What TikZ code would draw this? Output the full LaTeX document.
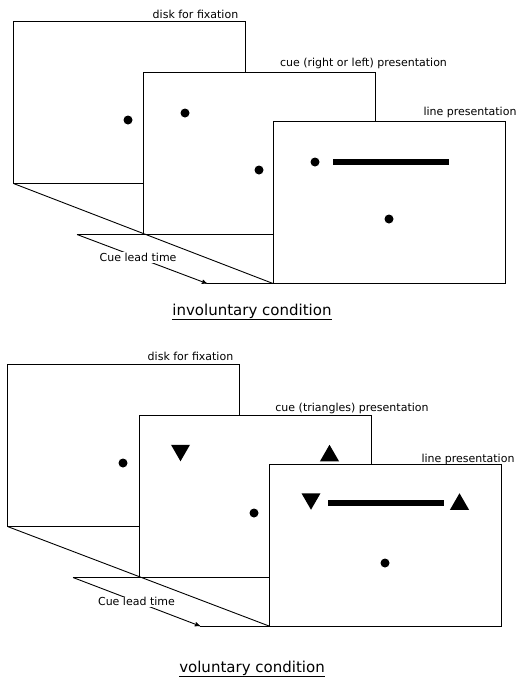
\documentclass[tikz,border=0pt]{standalone}
\usepackage{fontspec}
\setmainfont{DejaVu Sans}
\usetikzlibrary{arrows}
\usetikzlibrary{shapes.geometric}

\begin{document}
\begin{tikzpicture}[x=1pt,y=-1pt,>=stealth',line width=0.9pt]
					\tikzstyle{panel}=[draw,fill=white,inner sep=0pt,outer sep=0pt,
						minimum width=232pt,minimum height=162pt]
					\tikzstyle{dot}=[circle,fill,inner sep=0pt,minimum size=9pt]
					\tikzstyle{bar}=[rectangle,fill,inner sep=0pt,minimum width=116pt,minimum height=6pt]
					\tikzstyle{tri}=[regular polygon,regular polygon sides=3,fill,inner sep=0pt,minimum size=22pt]
					\tikzstyle{caption}=[anchor=base,inner sep=0pt,font=\fontsize{11}{13}\selectfont]
					\tikzstyle{title}=[anchor=base,inner sep=0pt,font=\fontsize{15}{18}\selectfont]
					\tikzstyle{lead}=[fill=white,inner sep=1pt,font=\fontsize{11}{13}\selectfont]
					
					\useasboundingbox (0,0) rectangle (518,680);
					
					% involuntary condition
					\coordinate (leadA)    at (77,234.5);
					\coordinate (leadAend) at (207,283.5);
					\node[panel] (fixA)  at (129.5,102.5) {};
					\node[panel] (cueA)  at (259.5,153.5) {};
					\node[panel] (lineA) at (389,202.5) {};
					\draw (fixA.south west) -- (lineA.south west);
					\draw (leadA) -- (cueA.south west);
					\draw (leadAend) -- (lineA.south west);
					\draw[->] (leadA) -- node[lead,pos=0.47] {Cue lead time} (leadAend);
					
					\node[dot] (fixdotA)  at (128,120) {};
					\node[dot] (cuedotA)  at (185,113) {};
					\node[dot] (cuefixA)  at (259,170) {};
					\node[dot] (linedotA) at (315,162) {};
					\node[dot] (linefixA) at (389,219) {};
					\node[bar] (barA)     at (391,162) {};
					
					\node[caption] (fixtextA)  at (195.5,19) {disk for fixation};
					\node[caption] (cuetextA)  at (363.5,66) {cue (right or left) presentation};
					\node[caption] (linetextA) at (470,115) {line presentation};
					\node[title]   (condA)     at (252,315) {\underline{involuntary condition}};
					
					% voluntary condition
					\coordinate (leadB)    at (73,577.5);
					\coordinate (leadBend) at (200,626);
					\node[panel] (fixB)  at (123.5,445.5) {};
					\node[panel] (cueB)  at (255,496.5) {};
					\node[panel] (lineB) at (385,545) {};
					\draw (fixB.south west) -- (lineB.south west);
					\draw (leadB) -- (cueB.south west);
					\draw (leadBend) -- (lineB.south west);
					\draw[->] (leadB) -- node[lead] {Cue lead time} (leadBend);
					
					\node[dot] (fixdotB)  at (123,463) {};
					\node[dot] (cuefixB)  at (254,513) {};
					\node[dot] (linefixB) at (385,563) {};
					\node[tri,shape border rotate=180] (cueleftB)  at (180.5,450.25) {};
					\node[tri]                         (cuerightB) at (329.5,455.75) {};
					\node[tri,shape border rotate=180] (lineleftB)  at (311,498.75) {};
					\node[tri]                         (linerightB) at (459.5,504.25) {};
					\node[bar] (barB) at (386,503) {};
					
					\node[caption] (fixtextB)  at (190.5,360) {disk for fixation};
					\node[caption] (cuetextB)  at (352,411) {cue (triangles) presentation};
					\node[caption] (linetextB) at (468,462) {line presentation};
					\node[title]   (condB)     at (252,672) {\underline{voluntary condition}};
\end{tikzpicture}
\end{document}
